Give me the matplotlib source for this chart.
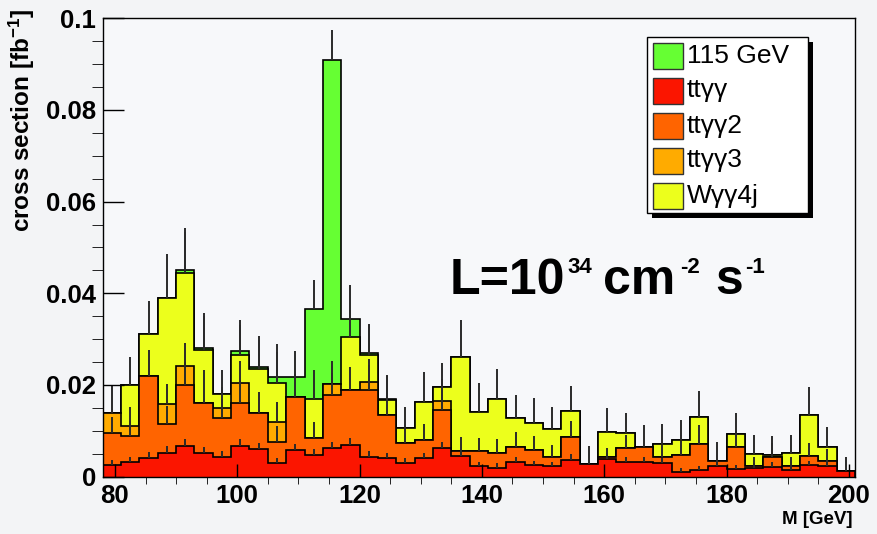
import numpy as np
import matplotlib
matplotlib.use("Agg")
import matplotlib.pyplot as plt
from matplotlib.patches import Rectangle
from matplotlib.ticker import MultipleLocator, FuncFormatter

plt.rcParams['font.family'] = ['Liberation Sans', 'DejaVu Sans']
plt.rcParams['mathtext.fontset'] = 'custom'
plt.rcParams['mathtext.rm'] = 'Liberation Sans:bold'
plt.rcParams['mathtext.bf'] = 'Liberation Sans:bold'
plt.rcParams['mathtext.default'] = 'bf'

# 41 bins of 3 GeV from 78 to 201 GeV
edges = np.arange(78, 202, 3)

# individual contributions per bin [fb^-1]
tt_aa = [0.0025, 0.0031, 0.0041, 0.0052, 0.0067, 0.0052, 0.0044, 0.0067, 0.0060, 0.0029,
         0.0058, 0.0047, 0.0062, 0.0069, 0.0044, 0.0040, 0.0029, 0.0040, 0.0062, 0.0046,
         0.0023, 0.0020, 0.0031, 0.0025, 0.0023, 0.0037, 0.0027, 0.0039, 0.0032, 0.0031,
         0.0030, 0.0011, 0.0014, 0.0024, 0.0016, 0.0019, 0.0022, 0.0014, 0.0025, 0.0024,
         0.0013]
tt_aa2 = [0.0071, 0.0058, 0.0179, 0.0062, 0.0133, 0.0108, 0.0083, 0.0094, 0.0080, 0.0046,
          0.0116, 0.0037, 0.0116, 0.0121, 0.0145, 0.0094, 0.0045, 0.0039, 0.0083, 0.0010,
          0.0032, 0.0032, 0.0034, 0.0033, 0.0021, 0.0050, 0.0, 0.0003, 0.0030, 0.0034,
          0.0014, 0.0036, 0.0058, 0.0011, 0.0048, 0.0004, 0.0022, 0.0010, 0.0020, 0.0011,
          0.0]
tt_aa3 = [0.0044, 0.0022, 0.0, 0.0044, 0.0041, 0.0, 0.0023, 0.0044, 0.0, 0.0044,
          0.0, 0.0, 0.0024, 0.0, 0.0018, 0.0, 0.0, 0.0, 0.0021, 0.0,
          0.0, 0.0, 0.0, 0.0, 0.0, 0.0, 0.0, 0.0, 0.0, 0.0,
          0.0, 0.0, 0.0, 0.0, 0.0, 0.0, 0.0, 0.0, 0.0, 0.0,
          0.0]
w_aa4j = [0.0, 0.0089, 0.0091, 0.0231, 0.0204, 0.0116, 0.0030, 0.0060, 0.0094, 0.0086,
          0.0, 0.0085, 0.0, 0.0115, 0.0058, 0.0033, 0.0033, 0.0085, 0.0030, 0.0204,
          0.0087, 0.0117, 0.0062, 0.0060, 0.0059, 0.0057, 0.0, 0.0056, 0.0033, 0.0,
          0.0027, 0.0032, 0.0058, 0.0, 0.0029, 0.0027, 0.0003, 0.0028, 0.0090, 0.0030,
          0.0]
higgs115 = [0.0, 0.0, 0.0, 0.0, 0.0006, 0.0005, 0.0, 0.0010, 0.0006, 0.0013,
            0.0044, 0.0196, 0.0707, 0.0038, 0.0004, 0.0002, 0.0, 0.0, 0.0, 0.0,
            0.0, 0.0, 0.0, 0.0, 0.0, 0.0, 0.0, 0.0, 0.0, 0.0,
            0.0, 0.0, 0.0, 0.0, 0.0, 0.0, 0.0, 0.0, 0.0, 0.0,
            0.0]

# errors of the stacked (cumulative) histograms
err_aa = [0.0012, 0.0011, 0.0013, 0.0014, 0.0015, 0.0013, 0.0012, 0.0015, 0.0013, 0.0011,
          0.0014, 0.0013, 0.0014, 0.0015, 0.0012, 0.0012, 0.0011, 0.0012, 0.0014, 0.0013,
          0.0010, 0.0010, 0.0011, 0.0010, 0.0010, 0.0012, 0.0039, 0.0012, 0.0011, 0.0011,
          0.0011, 0.0008, 0.0009, 0.0010, 0.0009, 0.0010, 0.0010, 0.0009, 0.0010, 0.0010,
          0.0030]
err_aa2 = [0.0035, 0.0033, 0.0056, 0.0040, 0.0050, 0.0073, 0.0042, 0.0048, 0.0045, 0.0035,
           0.0050, 0.0035, 0.0048, 0.0050, 0.0055, 0.0048, 0.0035, 0.0037, 0.0045, 0.0030,
           0.0030, 0.0030, 0.0032, 0.0030, 0.0025, 0.0035, 0.0, 0.0020, 0.0030, 0.0047,
           0.0025, 0.0030, 0.0040, 0.0041, 0.0035, 0.0020, 0.0030, 0.0020, 0.0028, 0.0025,
           0.0]
err_aa3 = [0.0057, 0.0040, 0.0, 0.0044, 0.0051, 0.0, 0.0045, 0.0047, 0.0, 0.0045,
           0.0, 0.0, 0.0050, 0.0, 0.0050, 0.0, 0.0, 0.0, 0.0048, 0.0,
           0.0, 0.0, 0.0, 0.0, 0.0, 0.0, 0.0, 0.0, 0.0, 0.0,
           0.0, 0.0, 0.0, 0.0, 0.0, 0.0, 0.0, 0.0, 0.0, 0.0,
           0.0]
err_w = [0.0, 0.0062, 0.0073, 0.0096, 0.0088, 0.0075, 0.0052, 0.0065, 0.0065, 0.0068,
         0.0, 0.0064, 0.0, 0.0058, 0.0065, 0.0053, 0.0046, 0.0065, 0.0053, 0.0082,
         0.0062, 0.0065, 0.0052, 0.0053, 0.0049, 0.0054, 0.0, 0.0051, 0.0045, 0.0,
         0.0045, 0.0044, 0.0056, 0.0, 0.0047, 0.0042, 0.0041, 0.0040, 0.0060, 0.0043,
         0.0]
err_h = [0.0, 0.0, 0.0, 0.0, 0.0091, 0.0075, 0.0, 0.0067, 0.0067, 0.0071,
         0.0056, 0.0065, 0.0065, 0.0075, 0.0065, 0.0053, 0.0, 0.0, 0.0, 0.0,
         0.0, 0.0, 0.0, 0.0, 0.0, 0.0, 0.0, 0.0, 0.0, 0.0,
         0.0, 0.0, 0.0, 0.0, 0.0, 0.0, 0.0, 0.0, 0.0, 0.0041,
         0.0]

labels = ['ttγγ', 'ttγγ2', 'ttγγ3', 'Wγγ4j', '115 GeV']
colors = ['#fb1500', '#ff6400', '#ffab00', '#ecff1c', '#66ff33']
layers = [tt_aa, tt_aa2, tt_aa3, w_aa4j, higgs115]
errors = [err_aa, err_aa2, err_aa3, err_w, err_h]

W, H = 877, 534
def fx(p): return p / W
def fy(p): return 1 - p / H

fig = plt.figure(figsize=(8.77, 5.34), dpi=100, facecolor='#f3f4f6')
ax = fig.add_axes([fx(102.7), fy(476.7), fx(855) - fx(102.7), fy(18.2) - fy(476.7)])
ax.set_facecolor('#f7f8fa')

cum = np.cumsum(np.array(layers), axis=0)
centers = 0.5 * (edges[:-1] + edges[1:])

# paint from the full sum down, so the lower histograms cover the upper ones
for i in range(len(layers) - 1, -1, -1):
    z = 2 + (len(layers) - i) * 2
    ax.stairs(cum[i], edges, baseline=0, fill=True, color=colors[i], lw=0, zorder=z)
    ax.stairs(cum[i], edges, baseline=0, fill=False, color='black', lw=1.2, zorder=z + 1)
    own = np.array(layers[i]) > 0
    err = np.array(errors[i])
    ax.vlines(centers[own], cum[i][own], cum[i][own] + err[own],
              colors='#2a2a2a', lw=1.4, zorder=30)

ax.set_xlim(78, 201)
ax.set_ylim(0, 0.1)
ax.xaxis.set_major_locator(MultipleLocator(20))
ax.xaxis.set_minor_locator(MultipleLocator(5))
ax.yaxis.set_major_locator(MultipleLocator(0.02))
ax.yaxis.set_minor_locator(MultipleLocator(0.005))
ax.yaxis.set_major_formatter(FuncFormatter(lambda v, p: f"{v:g}"))
ax.tick_params(direction='in', top=False, right=False, width=1)
ax.tick_params(axis='x', which='major', length=9.7, pad=5)
ax.tick_params(axis='x', which='minor', length=5)
ax.tick_params(axis='y', which='major', length=15, pad=5)
ax.tick_params(axis='y', which='minor', length=8)
for lab in ax.get_xticklabels() + ax.get_yticklabels():
    lab.set_fontsize(18.5)
    lab.set_fontweight('bold')
ax.xaxis.set_zorder(50)
ax.yaxis.set_zorder(50)
for s in ax.spines.values():
    s.set_zorder(50)
    s.set_linewidth(1.0)

fig.text(fx(22), fy(9), 'cross section [fb$^{-1}$]', rotation=90, ha='center', va='top',
         fontsize=17.5, fontweight='bold')
fig.text(fx(852), fy(520), 'M [GeV]', ha='right', va='center', fontsize=13.5, fontweight='bold')

# luminosity label
big = dict(fontsize=36, fontweight='bold', va='baseline', ha='left')
small = dict(fontsize=16, fontweight='bold', va='top', ha='left')
fig.text(fx(450), fy(294.3), 'L=10', **big)
fig.text(fx(567), fy(257), '34', **small)
fig.text(fx(603), fy(294.3), 'cm', **big)
fig.text(fx(680), fy(257), '-2', **small)
fig.text(fx(715), fy(294.3), 's', **big)
fig.text(fx(745), fy(257), '-1', **small)

# legend box with shadow
lx0, ly0, lx1, ly1 = 647, 37, 808, 213
fig.add_artist(Rectangle((fx(lx0 + 5), fy(ly1 + 5)), fx(lx1 - lx0), fy(ly0) - fy(ly1),
                         transform=fig.transFigure, facecolor='black', edgecolor='none', zorder=60))
fig.add_artist(Rectangle((fx(lx0), fy(ly1)), fx(lx1 - lx0), fy(ly0) - fy(ly1),
                         transform=fig.transFigure, facecolor='white', edgecolor='black', lw=1, zorder=61))
rows = [56, 90.5, 125.5, 160.5, 196]
order = [4, 0, 1, 2, 3]
for yc, i in zip(rows, order):
    fig.add_artist(Rectangle((fx(653), fy(yc + 13)), fx(30), fy(yc - 13) - fy(yc + 13),
                             transform=fig.transFigure, facecolor=colors[i],
                             edgecolor='#333333', lw=1, zorder=62))
    fig.text(fx(687), fy(yc), labels[i], ha='left', va='center', fontsize=19, zorder=63)

fig.savefig('out.png', dpi=100, facecolor=fig.get_facecolor())
